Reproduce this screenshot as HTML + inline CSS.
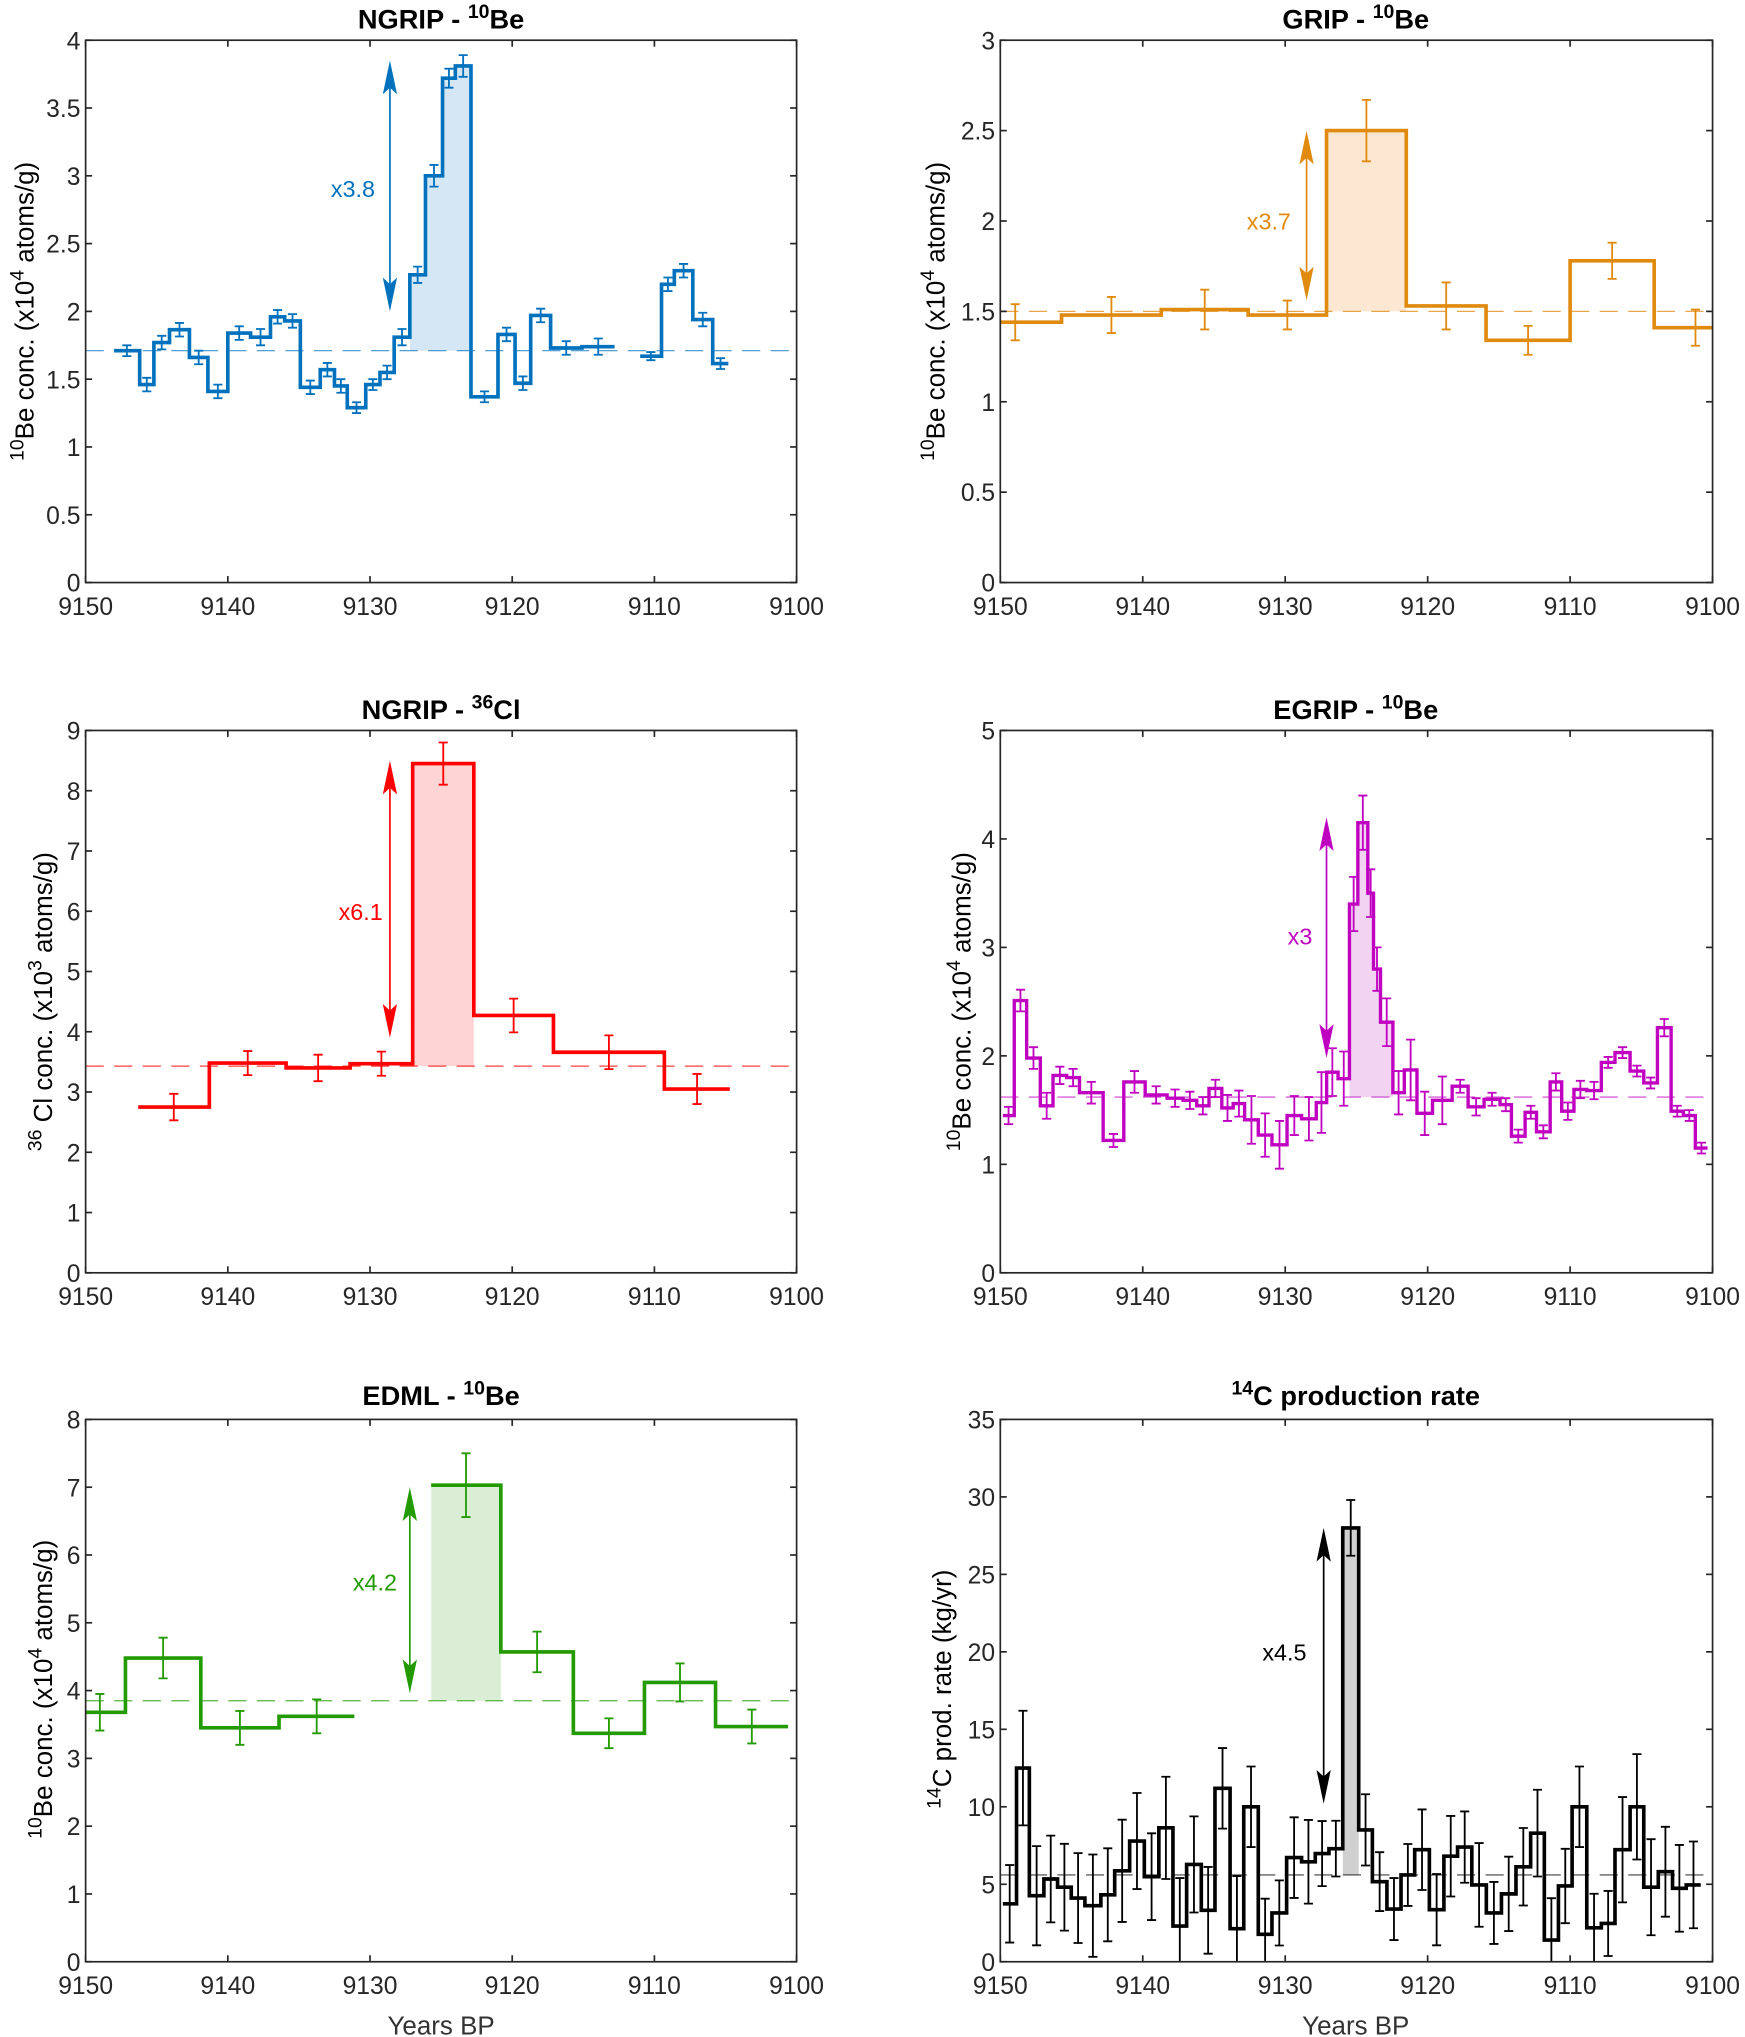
<!DOCTYPE html>
<html><head><meta charset="utf-8"><style>
html,body{margin:0;padding:0;background:#fff;}
svg{display:block;font-family:"Liberation Sans",Arial,sans-serif;}
</style></head><body>
<svg id="chart" width="1745" height="2037" viewBox="0 0 1345 1570" preserveAspectRatio="none" xmlns="http://www.w3.org/2000/svg">
<g font-weight="bold" font-size="21" text-anchor="middle" fill="#000">
<text x="340" y="22">NGRIP - <tspan font-size="15" dy="-8">10</tspan><tspan dy="8">Be</tspan></text>
<text x="1045" y="22">GRIP - <tspan font-size="15" dy="-8">10</tspan><tspan dy="8">Be</tspan></text>
<text x="340" y="554">NGRIP - <tspan font-size="15" dy="-8">36</tspan><tspan dy="8">Cl</tspan></text>
<text x="1045" y="554">EGRIP - <tspan font-size="15" dy="-8">10</tspan><tspan dy="8">Be</tspan></text>
<text x="340" y="1083">EDML - <tspan font-size="15" dy="-8">10</tspan><tspan dy="8">Be</tspan></text>
<text x="1045" y="1083"><tspan font-size="15" dy="-8">14</tspan><tspan dy="8">C production rate</tspan></text>
</g>
<g font-size="20" text-anchor="middle" fill="#000">
<text transform="translate(26,240) rotate(-90)"><tspan font-size="15" dy="-8">10</tspan><tspan dy="8">Be conc. (x10</tspan><tspan font-size="15" dy="-8">4</tspan><tspan dy="8"> atoms/g)</tspan></text>
<text transform="translate(728,240) rotate(-90)"><tspan font-size="15" dy="-8">10</tspan><tspan dy="8">Be conc. (x10</tspan><tspan font-size="15" dy="-8">4</tspan><tspan dy="8"> atoms/g)</tspan></text>
<text transform="translate(40,772) rotate(-90)"><tspan font-size="15" dy="-8">36</tspan><tspan dy="8"> Cl conc. (x10</tspan><tspan font-size="15" dy="-8">3</tspan><tspan dy="8"> atoms/g)</tspan></text>
<text transform="translate(748,772) rotate(-90)"><tspan font-size="15" dy="-8">10</tspan><tspan dy="8">Be conc. (x10</tspan><tspan font-size="15" dy="-8">4</tspan><tspan dy="8"> atoms/g)</tspan></text>
<text transform="translate(40,1302) rotate(-90)"><tspan font-size="15" dy="-8">10</tspan><tspan dy="8">Be conc. (x10</tspan><tspan font-size="15" dy="-8">4</tspan><tspan dy="8"> atoms/g)</tspan></text>
<text transform="translate(733,1302) rotate(-90)"><tspan font-size="15" dy="-8">14</tspan><tspan dy="8">C prod. rate (kg/yr)</tspan></text>
</g>
<g font-size="20" text-anchor="middle" fill="#333">
<text x="340" y="1568">Years BP</text>
<text x="1045" y="1568">Years BP</text>
</g>
</svg>
<script>
// ---- data ----
const ngEdges = [9148.0,9146.2,9145.2,9144.1,9142.7,9141.4,9140.0,9138.4,9137.0,9136.0,9134.9,9133.5,9132.5,9131.6,9130.3,9129.3,9128.3,9127.2,9126.1,9124.9,9124.0,9122.9,9121.0,9119.8,9118.7,9117.3,9115.1,9112.8,9111.0,9109.5,9108.6,9107.3,9105.9,9104.8];
const ngVals = [1.71,1.46,1.77,1.865,1.66,1.41,1.84,1.81,1.96,1.93,1.44,1.57,1.45,1.29,1.46,1.55,1.81,2.27,3.0,3.72,3.81,1.37,1.83,1.47,1.97,1.73,1.74,null,1.67,2.2,2.3,1.94,1.615];
const ngErr = [0.04,0.05,0.05,0.05,0.05,0.05,0.05,0.06,0.05,0.05,0.05,0.05,0.05,0.04,0.04,0.05,0.06,0.06,0.08,0.07,0.08,0.04,0.05,0.05,0.05,0.05,0.06,0,0.03,0.05,0.05,0.05,0.04];
const ngBase = [1.71];

const grEdges = [9152.2,9145.7,9138.7,9132.6,9127.1,9121.5,9115.9,9110.0,9104.1,9098.3];
const grVals = [1.44,1.48,1.51,1.48,2.50,1.53,1.34,1.78,1.41];
const grErr = [0.1,0.1,0.11,0.08,0.17,0.13,0.08,0.1,0.1];
const grBase = [1.5];

const clEdges = [9146.3,9141.3,9135.9,9131.4,9127.0,9122.7,9117.1,9109.3,9104.7];
const clVals = [2.75,3.48,3.40,3.47,8.45,4.27,3.66,3.05];
const clErr = [0.22,0.2,0.22,0.2,0.35,0.28,0.28,0.25];
const clBase = [3.43];

const egEdges = [9149.82,9149.02,9148.15,9147.19,9146.30,9145.34,9144.44,9142.78,9141.33,9139.83,9138.29,9137.17,9136.21,9135.35,9134.45,9133.65,9132.85,9131.89,9130.93,9129.87,9128.85,9127.82,9127.09,9126.29,9125.49,9124.9,9124.2,9123.8,9123.31,9122.44,9121.64,9120.75,9119.66,9118.28,9117.16,9116.04,9114.92,9114.12,9113.16,9112.36,9111.40,9110.59,9109.73,9108.83,9107.81,9106.85,9105.79,9104.83,9103.87,9102.91,9102.05,9101.21,9100.35];
const egVals = [1.45,2.51,1.98,1.54,1.82,1.80,1.66,1.22,1.76,1.64,1.61,1.59,1.54,1.70,1.52,1.56,1.41,1.27,1.18,1.45,1.42,1.57,1.85,1.79,3.4,4.15,3.5,2.8,2.31,1.66,1.87,1.47,1.59,1.72,1.53,1.60,1.55,1.26,1.48,1.30,1.76,1.49,1.69,1.68,1.94,2.03,1.86,1.75,2.26,1.49,1.45,1.15];
const egErr = [0.08,0.1,0.1,0.12,0.08,0.08,0.1,0.06,0.1,0.08,0.08,0.08,0.08,0.08,0.12,0.12,0.22,0.2,0.22,0.18,0.2,0.28,0.22,0.25,0.25,0.25,0.22,0.2,0.22,0.2,0.28,0.2,0.22,0.06,0.08,0.06,0.06,0.06,0.06,0.06,0.08,0.08,0.08,0.08,0.05,0.05,0.05,0.05,0.08,0.05,0.05,0.05];
const egBase = [1.62];

const edEdges = [9150.8,9147.2,9141.9,9136.4,9131.1,9125.7,9120.8,9115.7,9110.7,9105.7,9100.6];
const edVals = [3.68,4.48,3.45,3.62,null,7.03,4.57,3.37,4.12,3.47];
const edErr = [0.27,0.3,0.25,0.25,0,0.47,0.3,0.22,0.28,0.25];
const edBase = [3.85];

const c14Edges = [9149.82,9148.86,9147.96,9146.94,9145.98,9145.02,9144.06,9142.94,9141.97,9140.92,9139.89,9138.87,9137.88,9136.92,9135.89,9134.93,9133.87,9132.91,9131.89,9130.93,9129.90,9128.85,9127.89,9126.93,9125.96,9124.84,9123.88,9122.86,9121.87,9120.91,9119.88,9118.86,9117.90,9116.90,9115.88,9114.82,9113.80,9112.77,9111.81,9110.82,9109.86,9108.83,9107.81,9106.85,9105.79,9104.83,9103.81,9102.81,9101.85,9100.83];
const c14Vals = [3.74,12.5,4.26,5.34,4.81,4.11,3.62,4.32,5.87,7.79,5.49,8.64,2.30,6.28,3.32,11.19,2.13,10.0,1.77,3.15,6.72,6.45,6.98,7.30,28,8.51,5.17,3.40,5.60,7.23,3.36,6.81,7.40,4.96,3.15,4.38,6.13,8.30,1.40,4.89,10.0,2.19,2.47,7.23,10.0,4.81,5.81,4.74,4.96];
const c14Err = [2.5,3.7,3.2,2.8,2.8,2.9,3.3,3.0,3.3,3.1,2.8,3.3,3.1,3.1,2.8,2.6,3.4,2.6,2.3,2.1,2.6,2.7,2.1,1.8,1.8,2.3,1.9,2.0,2.0,2.6,2.3,2.6,2.3,2.7,2.0,2.4,2.5,2.8,2.7,2.4,2.6,2.2,2.1,3.4,3.4,3.1,2.9,2.8,2.8];
const c14Base = [5.6];

const xTicks = [9150,9140,9130,9120,9110,9100];
const ngTicks = ["0","0.5","1","1.5","2","2.5","3","3.5","4"];
const grTicks = ["0","0.5","1","1.5","2","2.5","3"];
const clTicks = ["0","1","2","3","4","5","6","7","8","9"];
const egTicks = ["0","1","2","3","4","5"];
const edTicks = ["0","1","2","3","4","5","6","7","8"];
const c14Ticks = ["0","5","10","15","20","25","30","35"];

// arrows: [year, topValue, bottomValue]
const ngArrow = [9128.6, 3.85, 2.0];
const grArrow = [9128.5, 2.5, 1.56];
const clArrow = [9128.6, 8.5, 3.9];
const egArrow = [9127.1, 4.2, 1.98];
const edArrow = [9127.2, 7.0, 3.96];
const c14Arrow = [9127.3, 28, 10.2];
const ratioLabels = ["x3.8","x3.7","x6.1","x3","x4.2","x4.5"];

// ---- drawing ----
const NS = 'http://www.w3.org/2000/svg';
const svg = document.getElementById('chart');
function mk(tag, attrs, parent){
  const e = document.createElementNS(NS, tag);
  for (const k in attrs) e.setAttribute(k, attrs[k]);
  parent.appendChild(e);
  return e;
}
let clipId = 0;
function panel(name, L, R, T, B, ymax, yTicks, edges, vals, errs, base, shade, arrow, label, labelPos, color, shadeColor, lw){
  const g = mk('g', {}, svg);
  
  
  const x = yr => L + (9150 - yr) / 50 * (R - L);
  const y = v => B - v / ymax * (B - T);
  clipId++;
  const cp = mk('clipPath', {id: 'cp' + clipId}, g);
  mk('rect', {x: L, y: T, width: R - L, height: B - T}, cp);
  const plot = mk('g', {'clip-path': 'url(#cp' + clipId + ')'}, g);
  
  
  let sp = '';
  for (let i = shade[0]; i <= shade[1]; i++) {
    sp += (i === shade[0] ? 'M' + x(edges[i]) + ',' + y(base[0]) + ' L' : ' L') + x(edges[i]) + ',' + y(vals[i]) + ' L' + x(edges[i + 1]) + ',' + y(vals[i]);
  }
  sp += ' L' + x(edges[shade[1] + 1]) + ',' + y(base[0]) + ' Z';
  const sh = mk('path', {d: sp, fill: shadeColor, stroke: 'none'}, plot);
  
  
  const bl = mk('line', {x1: L, x2: R, y1: y(base[0]), y2: y(base[0]), stroke: color, 'stroke-width': 0.9, 'stroke-dasharray': '14,8', opacity: 0.75}, plot);
  
  
  for (let i = 0; i < vals.length; i++) {
    if (vals[i] === null) continue;
    const xm = (x(edges[i]) + x(edges[i + 1])) / 2, y1 = y(vals[i] - errs[i]), y2 = y(vals[i] + errs[i]);
    const eb = mk('path', {d: 'M' + xm + ',' + y1 + ' V' + y2 + ' M' + (xm - 3.5) + ',' + y1 + ' h7 M' + (xm - 3.5) + ',' + y2 + ' h7', stroke: color, 'stroke-width': 1.4, fill: 'none'}, plot);
    
    
  }
  let d = '', open = false;
  for (let i = 0; i < vals.length; i++) {
    if (vals[i] === null) { open = false; continue; }
    d += (open ? ' L' : ' M') + x(edges[i]) + ',' + y(vals[i]) + ' L' + x(edges[i + 1]) + ',' + y(vals[i]);
    open = true;
  }
  const st = mk('path', {d: d, fill: 'none', stroke: color, 'stroke-width': lw, 'stroke-linejoin': 'miter'}, plot);
  
  
  const ax = x(arrow[0]), at = y(arrow[1]), ab = y(arrow[2]);
  const ar = mk('g', {fill: color, stroke: color}, g);
  
  
  mk('line', {x1: ax, x2: ax, y1: at + 10, y2: ab - 10, 'stroke-width': 1.3}, ar);
  mk('polygon', {points: ax + ',' + at + ' ' + (ax - 5.5) + ',' + (at + 26) + ' ' + ax + ',' + (at + 21) + ' ' + (ax + 5.5) + ',' + (at + 26), stroke: 'none'}, ar);
  mk('polygon', {points: ax + ',' + ab + ' ' + (ax - 5.5) + ',' + (ab - 26) + ' ' + ax + ',' + (ab - 21) + ' ' + (ax + 5.5) + ',' + (ab - 26), stroke: 'none'}, ar);
  const lt = mk('text', {x: labelPos[0], y: labelPos[1], fill: color, 'font-size': 18, 'text-anchor': 'middle'}, g);
  lt.textContent = label;
  
  
  const ax1 = mk('g', {stroke: '#262626', 'stroke-width': 1.3, fill: 'none'}, g);
  
  
  mk('rect', {x: L, y: T, width: R - L, height: B - T}, ax1);
  const lab = mk('g', {fill: '#262626', 'font-size': 19}, g);
  
  
  xTicks.forEach(t => {
    const xx = x(t);
    mk('line', {x1: xx, x2: xx, y1: B, y2: B - 5}, ax1);
    mk('line', {x1: xx, x2: xx, y1: T, y2: T + 5}, ax1);
    const tx = mk('text', {x: xx, y: B + 25, 'text-anchor': 'middle'}, lab);
    tx.textContent = t;
    
    
  });
  yTicks.forEach(t => {
    const yy = y(parseFloat(t));
    mk('line', {x1: L, x2: L + 5, y1: yy, y2: yy}, ax1);
    mk('line', {x1: R, x2: R - 5, y1: yy, y2: yy}, ax1);
    const ty = mk('text', {x: L - 4, y: yy + 7, 'text-anchor': 'end'}, lab);
    ty.textContent = t;
    
    
  });
}
panel('ngrip-be', 66, 614, 31, 449, 4, ngTicks, ngEdges, ngVals, ngErr, ngBase, [17,20], ngArrow, ratioLabels[0], [272,152], '#0072BD', '#D5E7F5', 2.8);
panel('grip-be', 771, 1320, 31, 449, 3, grTicks, grEdges, grVals, grErr, grBase, [4,4], grArrow, ratioLabels[1], [978,177], '#E08A10', '#FCE7D2', 2.8);
panel('ngrip-cl', 66, 614, 563, 981, 9, clTicks, clEdges, clVals, clErr, clBase, [4,4], clArrow, ratioLabels[2], [278,709], '#FF0000', '#FFD4D4', 2.8);
panel('egrip-be', 771, 1320, 563, 981, 5, egTicks, egEdges, egVals, egErr, egBase, [24,28], egArrow, ratioLabels[3], [1002,728], '#C000C0', '#F2D4F2', 2.6);
panel('edml-be', 66, 614, 1094, 1512, 8, edTicks, edEdges, edVals, edErr, edBase, [5,5], edArrow, ratioLabels[4], [289,1226], '#229A00', '#D9EED5', 2.8);
panel('c14', 771, 1320, 1094, 1512, 35, c14Ticks, c14Edges, c14Vals, c14Err, c14Base, [24,24], c14Arrow, ratioLabels[5], [990,1280], '#000000', '#D0D0D0', 2.8);
</script>
</body></html>
